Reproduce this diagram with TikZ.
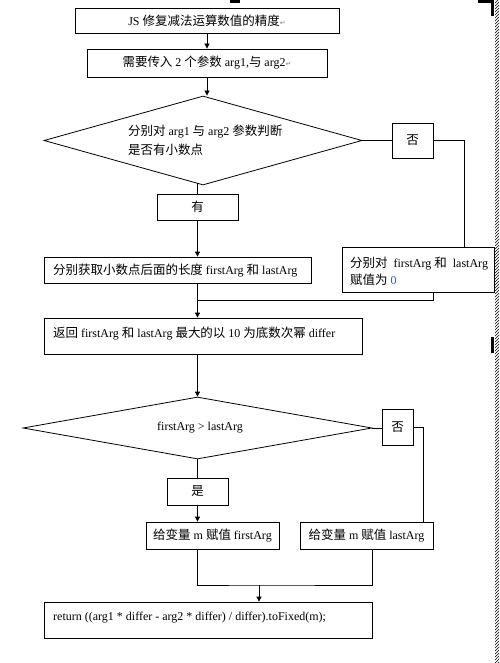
\documentclass[tikz,border=0pt]{standalone}
\usepackage{fontspec}
\setmainfont{Liberation Serif}
\newfontfamily\cjk[Scale=1.04]{Noto Sans CJK SC}
\newfontfamily\dvsans{DejaVu Sans}
\usetikzlibrary{shapes.geometric,arrows.meta,patterns,calc}
\newcommand\zh[1]{{\cjk #1}}
\newcommand\retmark{{\dvsans\fontsize{7}{8}\selectfont\textcolor{gray}{↵}}}
\definecolor{numblue}{RGB}{50,90,170}
\begin{document}
\begin{tikzpicture}[x=1pt,y=-1pt,
  font=\fontsize{12}{15}\selectfont,
  ln/.style={line width=0.8pt},
  bx/.style={draw,line width=0.8pt,inner sep=0pt},
  dm/.style={draw,diamond,line width=0.8pt,inner sep=0pt},
  lbl/.style={inner sep=0pt,anchor=base west},
  arr/.style={-{Triangle[length=5pt,width=5pt]}}]
\useasboundingbox (0,0) rectangle (499,663);

\node[bx,minimum width=264pt,minimum height=25pt] (b1) at (207,20.5) {JS \zh{修复减法运算数值的精度}\retmark};
\node[bx,minimum width=240pt,minimum height=28pt] (b2) at (207,63) {\zh{需要传入} 2 \zh{个参数} arg1,\zh{与} arg2\retmark};

\node[dm,minimum width=318pt,minimum height=89pt] (d1) at (203,140.5) {};
\node[lbl] (d1a) at (128,136) {\zh{分别对} arg1 \zh{与} arg2 \zh{参数判断}};
\node[lbl] (d1b) at (128,154) {\zh{是否有小数点}};

\node[bx,minimum width=41pt,minimum height=35pt] (no1) at (412.5,140.5) {\zh{否}};
\node[bx,minimum width=81pt,minimum height=26pt] (you) at (197.5,207) {\zh{有}};

\node[bx,minimum width=267pt,minimum height=26pt] (b3) at (177.5,270) {};
\node[lbl] (b3t) at (53,274) {\zh{分别获取小数点后面的长度} firstArg \zh{和} lastArg};

\node[bx,minimum width=152pt,minimum height=45pt] (r) at (418,269.5) {};
\node[lbl] (r1) at (350,267) {\zh{分别对}\ \ firstArg \zh{和}\ \ lastArg};
\node[lbl] (r2) at (350,284) {\zh{赋值为} \textcolor{numblue}{0}};

\node[bx,minimum width=318pt,minimum height=36pt] (b4) at (203,336) {};
\node[lbl] (b4t) at (53,337) {\zh{返回} firstArg \zh{和} lastArg \zh{最大的以} 10 \zh{为底数次幂} differ};

\node[dm,minimum width=349pt,minimum height=62pt] (d2) at (197.5,428) {};
\node[inner sep=0pt,anchor=base] (d2t) at (200,430) {firstArg > lastArg};

\node[bx,minimum width=31pt,minimum height=36pt] (no2) at (397.5,427) {\zh{否}};
\node[bx,minimum width=61pt,minimum height=27pt] (yes) at (197.5,491.5) {\zh{是}};

\node[bx,minimum width=133pt,minimum height=27pt] (f1) at (212.5,535.5) {\zh{给变量} m \zh{赋值} firstArg};
\node[bx,minimum width=133pt,minimum height=27pt] (l) at (366.5,535.5) {\zh{给变量} m \zh{赋值} lastArg};

\node[bx,minimum width=328pt,minimum height=36pt] (fin) at (208,620) {};
\node[lbl] (fint) at (53,620) {return ((arg1 * differ - arg2 * differ) / differ).toFixed(m);};

% connectors
\draw[ln,arr] (b1.south) -- (b2.north);
\draw[ln,arr] (b2.south) -- (b2.south |- d1.north);
\draw[ln] (you.north) -- ([yshift=2pt]you.north |- d1.south);
\draw[ln,arr] (you.south) -- (you.south |- b3.north);
\draw[ln] (d1.east) -- (d1.east -| no1.west);
\draw[ln] (no1.east) -| ([xshift=46pt]r.north);
\coordinate (m1) at (197.5,300);
\draw[ln] (b3.south -| m1) -- (m1);
\draw[ln] ([xshift=15pt]r.south) |- (m1);
\draw[ln,arr] (m1) -- (m1 |- b4.north);
\draw[ln,arr] (b4.south -| d2.north) -- (d2.north);
\draw[ln] (yes.north) -- (yes.north |- d2.south);
\draw[ln,arr] (yes.south) -- (yes.south |- f1.north);
\draw[ln] (d2.east) -- (d2.east -| no2.west);
\draw[ln] (no2.east) -| ([xshift=56.5pt]l.north);
\coordinate (m2) at (259,585);
\draw[ln] (f1.south -| yes.south) |- (m2) -| ([xshift=5.5pt]l.south);
\draw[ln,arr] (m2) -- (m2 |- fin.north);

% editor marks
\fill (230,0) rectangle (240,3);
\fill (478,0) rectangle (494,3);
\fill (491,0) rectangle (494,16);
\fill (491,337) rectangle (494,353);
\fill[white] (495,0) rectangle (499,663);
\fill[pattern=north east lines] (495,0) rectangle (499,663);
\end{tikzpicture}
\end{document}
